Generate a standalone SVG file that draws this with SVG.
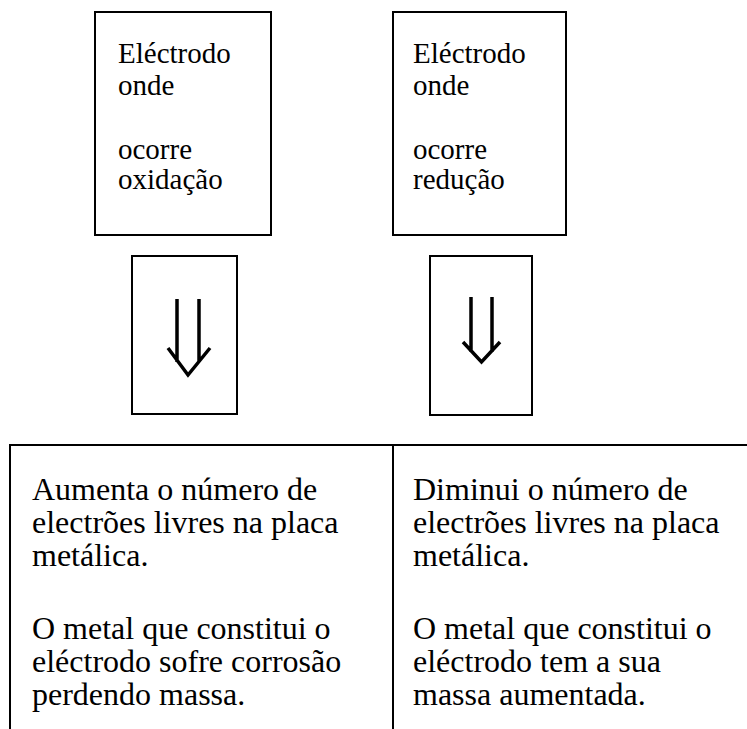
<svg xmlns="http://www.w3.org/2000/svg" width="747" height="729" viewBox="0 0 747 729">
<style>
  .box { fill: #fff; stroke: #000; stroke-width: 2; }
  .line { fill: none; stroke: #000; stroke-width: 2; }
  .arrow { fill: none; stroke: #000; stroke-width: 3.5; stroke-linejoin: miter; }
  text { font-family: 'Liberation Serif', 'Times New Roman', serif; fill: #000; }
  .t1 { font-size: 29px; }
  .t2 { font-size: 32px; }
</style>
<rect width="747" height="729" fill="#fff"/>
<g id="box-oxidacao">
  <rect class="box" x="95" y="12" width="176" height="223"/>
  <text class="t1" x="118" y="63">Eléctrodo</text>
  <text class="t1" x="118" y="95">onde</text>
  <text class="t1" x="118" y="159">ocorre</text>
  <text class="t1" x="118" y="189">oxidação</text>
</g>
<g id="box-reducao">
  <rect class="box" x="393" y="12" width="173" height="223"/>
  <text class="t1" x="413" y="63">Eléctrodo</text>
  <text class="t1" x="413" y="95">onde</text>
  <text class="t1" x="413" y="159">ocorre</text>
  <text class="t1" x="413" y="189">redução</text>
</g>
<g id="arrow-left">
  <rect class="box" x="132" y="256" width="105" height="158"/>
  <path class="arrow" d="M177,299 V362 M199,299 V362 M168,348 L188,375 L210,348"/>
</g>
<g id="arrow-right">
  <rect class="box" x="430" y="256" width="102" height="159"/>
  <path class="arrow" d="M471,297 V352 M492,297 V352 M463,342 L481.5,362 L500,342"/>
</g>
<g id="table">
  <path class="line" d="M10,445 H747 M10,444 V729 M393,445 V729"/>
</g>
<g id="cell-left">
  <text class="t2" x="32" y="500">Aumenta o número de</text>
  <text class="t2" x="32" y="533">electrões livres na placa</text>
  <text class="t2" x="32" y="566">metálica.</text>
  <text class="t2" x="32" y="639">O metal que constitui o</text>
  <text class="t2" x="32" y="672">eléctrodo sofre corrosão</text>
  <text class="t2" x="32" y="705">perdendo massa.</text>
</g>
<g id="cell-right">
  <text class="t2" x="413" y="500">Diminui o número de</text>
  <text class="t2" x="413" y="533">electrões livres na placa</text>
  <text class="t2" x="413" y="566">metálica.</text>
  <text class="t2" x="413" y="639">O metal que constitui o</text>
  <text class="t2" x="413" y="672">eléctrodo tem a sua</text>
  <text class="t2" x="413" y="705">massa aumentada.</text>
</g>
<g id="connectors"></g>
</svg>
